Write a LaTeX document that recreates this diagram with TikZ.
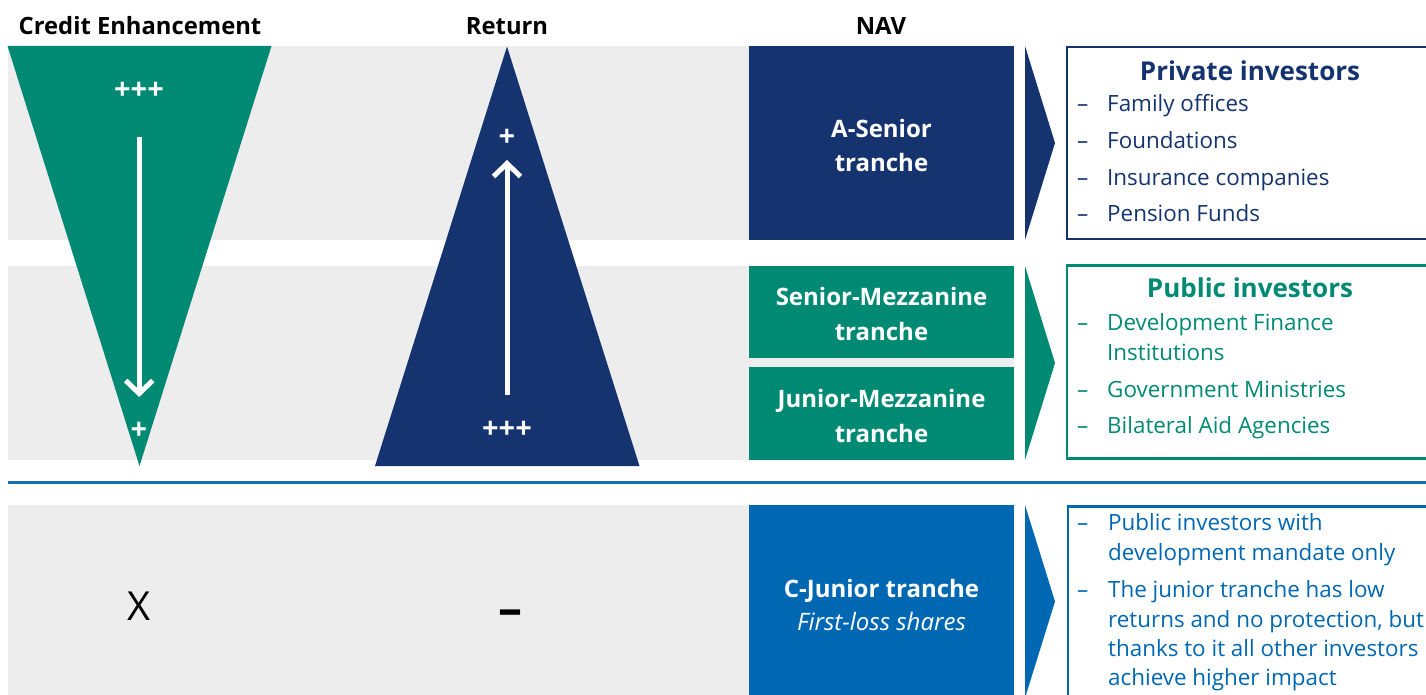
\documentclass[tikz,border=0pt]{standalone}
\usepackage{fontspec}
\setmainfont{Open Sans}
\usetikzlibrary{arrows.meta}
\definecolor{ebgreen}{HTML}{008A74}
\definecolor{ebnavy}{HTML}{15346F}
\definecolor{ebblue}{HTML}{0068B3}
\definecolor{ebline}{HTML}{136EB4}
\definecolor{ebgray}{HTML}{EDEDED}
\begin{document}
\begin{tikzpicture}[x=1pt,y=-1pt,
  hdr/.style={font=\fontsize{23.8}{28}\selectfont\bfseries, anchor=base, inner sep=0pt},
  trlab/.style={font=\fontsize{24}{28}\selectfont\bfseries, text=white, anchor=base, inner sep=0pt},
  plus/.style={font=\fontsize{29}{32}\selectfont\bfseries, text=white, inner sep=0pt},
  ttl/.style={font=\fontsize{26}{30}\selectfont\bfseries, anchor=base, inner sep=0pt},
  itm/.style={font=\fontsize{22.4}{26}\selectfont, anchor=base west, inner sep=0pt},
  warrow/.style={draw=white, line width=5pt, -{Straight Barb[length=13pt,width=27pt]}},
  invbox/.style={line width=2.5pt},
]
\useasboundingbox (0,0) rectangle (1426,695);

% grey bands behind the rows
\fill[ebgray] (8,46) rectangle (1014,240);
\fill[ebgray] (8,266) rectangle (1014,460);
\fill[ebgray] (8,505) rectangle (1014,700);

% separator above the first-loss row
\draw[ebline, line width=3pt] (8,482) -- (1430,482);

% column headers
\node[hdr] (hce) at (140,35) {Credit Enhancement};
\node[hdr] (hret) at (507,35) {Return};
\node[hdr] (hnav) at (881,35) {NAV};

% credit enhancement funnel
\fill[ebgreen] (7.5,46) -- (271.5,46) -- (139.5,466) -- cycle;
\node[plus] (ce3) at (139,91) {+++};
\node[plus] (ce1) at (139,431) {+};
\coordinate (ceTop) at (139.2,137);
\coordinate (ceBot) at (139.2,397);
\draw[warrow] (ceTop) -- (ceBot);

% return pyramid
\fill[ebnavy] (507,46.5) -- (639.5,466) -- (375,466) -- cycle;
\node[plus] (rt1) at (507,138) {+};
\node[plus] (rt3) at (507,430) {+++};
\coordinate (rtBot) at (507,395);
\coordinate (rtTop) at (507,160);
\draw[warrow] (rtBot) -- (rtTop);

% first-loss row markers
\node[font=\fontsize{40}{44}\selectfont, inner sep=0pt] (cx) at (139.5,606) {X};
\node[font=\fontsize{48}{52}\selectfont\bfseries, anchor=base, inner sep=0pt] (rdash) at (510,625) {–};

% tranche boxes
\fill[ebnavy] (749,46) rectangle (1014,240);
\fill[ebgreen] (749,266) rectangle (1014,358);
\fill[ebgreen] (749,367) rectangle (1014,460);
\fill[ebblue] (749,505) rectangle (1014,700);

\node[trlab] (ta1) at (881.5,137.5) {A-Senior};
\node[trlab] (ta2) at (881.5,171.5) {tranche};
\node[trlab] (ts1) at (881.5,305.5) {Senior-Mezzanine};
\node[trlab] (ts2) at (881.5,340.5) {tranche};
\node[trlab] (tj1) at (881.5,407) {Junior-Mezzanine};
\node[trlab] (tj2) at (881.5,442) {tranche};
\node[trlab] (tc1) at (881.5,597) {C-Junior tranche};
\node[trlab, font=\fontsize{24}{28}\selectfont\itshape] (tc2) at (881.5,630.5) {First-loss shares};

% pointers towards the investor groups
\fill[ebnavy] (1025,46) -- (1055,143) -- (1025,240) -- cycle;
\fill[ebgreen] (1025,266) -- (1055,363) -- (1025,460) -- cycle;
\fill[ebblue] (1025,505) -- (1055,601.5) -- (1025,698) -- cycle;

% private investors
\draw[ebnavy, invbox] (1067,47.25) rectangle (1440,238.75);
\node[ttl, text=ebnavy] (pvt) at (1250,80.5) {Private investors};
\begin{scope}[every node/.style={itm, text=ebnavy}]
  \node (pd1) at (1077,112) {–};    \node (p1) at (1107,112) {Family offices};
  \node (pd2) at (1077,148.7) {–};  \node (p2) at (1107,148.7) {Foundations};
  \node (pd3) at (1077,185.4) {–};  \node (p3) at (1107,185.4) {Insurance companies};
  \node (pd4) at (1077,222) {–};    \node (p4) at (1107,222) {Pension Funds};
\end{scope}

% public investors
\draw[ebgreen, invbox] (1067,265.5) rectangle (1440,458.5);
\node[ttl, text=ebgreen] (pub) at (1250,297) {Public investors};
\begin{scope}[every node/.style={itm, text=ebgreen}]
  \node (qd1) at (1077,330.5) {–};  \node (q1a) at (1107,330.5) {Development Finance};
                                    \node (q1b) at (1107,360.5) {Institutions};
  \node (qd2) at (1077,397) {–};    \node (q2) at (1107,397) {Government Ministries};
  \node (qd3) at (1077,433.5) {–};  \node (q3) at (1107,433.5) {Bilateral Aid Agencies};
\end{scope}

% first-loss investors
\draw[ebblue, invbox] (1068,506.25) rectangle (1440,710);
\begin{scope}[every node/.style={itm, text=ebblue}]
  \node (rd1) at (1077,530.5) {–};  \node (r1a) at (1108,530.5) {Public investors with};
                                    \node (r1b) at (1108,560.5) {development mandate only};
  \node (rd2) at (1077,597) {–};    \node (r2a) at (1108,597) {The junior tranche has low};
                                    \node (r2b) at (1108,627) {returns and no protection, but};
                                    \node (r2c) at (1108,656) {thanks to it all other investors};
                                    \node (r2d) at (1108,685.5) {achieve higher impact};
\end{scope}
\end{tikzpicture}
\end{document}
